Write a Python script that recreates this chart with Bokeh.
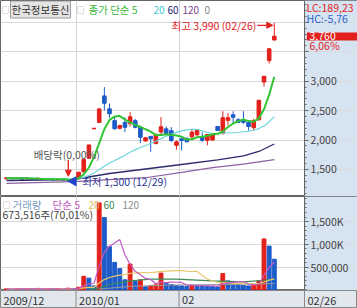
import numpy as np
import pandas as pd
from bokeh.plotting import figure
from bokeh.layouts import column
from bokeh.models import (Range1d, FixedTicker, Grid, Label, Arrow, NormalHead, LinearAxis,
                          BoxAnnotation)
from bokeh.embed import file_html
from bokeh.resources import INLINE
from bokeh.core.properties import value

FONT = "Noto Sans CJK KR"

# ---------------- data ----------------
stock_name = "한국정보통신"
dates = ["12/10", "12/11", "12/14", "12/15", "12/16", "12/17", "12/18", "12/21", "12/22", "12/23",
         "12/24", "12/28", "12/29", "12/30",
         "01/04", "01/05", "01/06", "01/07", "01/08", "01/11", "01/12", "01/13", "01/14", "01/15",
         "01/18", "01/19", "01/20", "01/21", "01/22", "01/25", "01/26", "01/27", "01/28", "01/29",
         "02/01", "02/02", "02/03", "02/04", "02/05", "02/08", "02/09", "02/10", "02/11", "02/12",
         "02/16", "02/17", "02/18", "02/19", "02/22", "02/23", "02/24", "02/25", "02/26"]
opens = [1340, 1355, 1345, 1360, 1340, 1350, 1335, 1345, 1330, 1340, 1325, 1340, 1325, 1310,
         1345, 1460, 1690, 2195, 2300, 2750, 2530, 2330, 2200, 2300, 2280, 2330, 2220, 1985, 2060, 1940,
         2135, 2190, 2160, 1910,
         2020, 2030, 2055, 2090, 2050, 1995, 2000, 2230, 2110, 2335, 2430, 2345, 2340, 2300, 2210, 2345,
         2985, 3350, 3700]
highs = [1360, 1365, 1370, 1365, 1360, 1355, 1350, 1350, 1345, 1345, 1345, 1345, 1335, 1340,
         1460, 1665, 1910, 2195, 2525, 2900, 2620, 2400, 2260, 2390, 2475, 2360, 2230, 2050, 2075, 2100,
         2390, 2230, 2220, 1990,
         2040, 2040, 2190, 2185, 2130, 2105, 2110, 2240, 2490, 2455, 2490, 2370, 2490, 2310, 2360, 2680,
         3080, 3550, 3990]
lows = [1330, 1340, 1340, 1335, 1335, 1330, 1330, 1325, 1325, 1320, 1320, 1320, 1300, 1305,
        1340, 1450, 1680, 2195, 2290, 2500, 2380, 2180, 2180, 2135, 2230, 2200, 1950, 1970, 1800, 1930,
        2100, 2100, 1965, 1835,
        1825, 1965, 2000, 2060, 1965, 1910, 1990, 2160, 2095, 2250, 2290, 2290, 2275, 2160, 2165, 2330,
        2910, 3300, 3690]
closes = [1355, 1345, 1360, 1340, 1350, 1335, 1345, 1330, 1340, 1325, 1340, 1325, 1310, 1335,
          1450, 1665, 1910, 2195, 2525, 2630, 2450, 2195, 2245, 2220, 2390, 2220, 2050, 2035, 2025, 2095,
          2220, 2110, 1995, 1965,
          1995, 1975, 2130, 2175, 2000, 2090, 2100, 2165, 2375, 2375, 2390, 2305, 2305, 2235, 2330, 2670,
          3080, 3545, 3760]
volumes = [25000, 18000, 30000, 22000, 28000, 20000, 35000, 15000, 25000, 20000, 30000, 22000, 40000, 28000,
           60000, 300000, 260000, 90000, 1910000, 1590000, 950000, 606000, 468000, 223000,
           569000, 184000, 223000, 70000, 100000, 115000, 370000, 150000, 120000, 95000,
           90000, 82000, 110000, 100000, 90000, 82000, 75000, 68000, 360000, 200000,
           140000, 120000, 105000, 90000, 110000, 200000, 1120000, 962027, 673516]

# long moving averages (index, value)
ma60_idx = [0, 13, 20, 27, 34, 41, 46, 49, 52]
ma60_val = [1313, 1330, 1432, 1508, 1585, 1662, 1730, 1806, 1933]
ma120_idx = [0, 13, 27, 34, 40, 46, 52]
ma120_val = [1265, 1295, 1360, 1450, 1530, 1590, 1668]
vma60_idx = [16, 18, 20, 24, 28, 33, 40, 46, 52]
vma60_val = [20000, 40000, 120000, 200000, 240000, 240000, 200000, 180000, 230000]
vma120_idx = [18, 24, 32, 42, 52]
vma120_val = [20000, 80000, 110000, 120000, 140000]

price_ticks = [1500, 2000, 2500, 3000, 3500, 4000]
price_hidden = [3500, 4000]
vol_ticks = [500000, 1000000, 1500000]
vol_tick_labels = ["500,000", "1,000K", "1,500K"]
date_labels = ["2009/12", "2010/01", "02", "02/26"]
exdiv_date = "12/29"

# ---------------- derived ----------------
n = len(closes)
idx = np.arange(n)
UP, DOWN = "#e3211c", "#1d5cc9"
ccol = [UP if c >= o else DOWN for o, c in zip(opens, closes)]
vcol = [UP] + [UP if volumes[i] >= volumes[i - 1] else DOWN for i in range(1, n)]
cs = pd.Series(closes, dtype=float)
ma5 = cs.rolling(5, min_periods=1).mean()
ma20 = cs.rolling(20, min_periods=1).mean()
vs = pd.Series(volumes, dtype=float)
vma5 = vs.rolling(5, min_periods=1).mean()
vma20 = vs.rolling(20, min_periods=1).mean()
tops = [max(o, c) for o, c in zip(opens, closes)]
bots = [min(o, c) for o, c in zip(opens, closes)]

month_start = [i for i in range(1, n) if dates[i][:2] != dates[i - 1][:2]]
bounds = [m - 0.5 for m in month_start]

low_i = int(np.argmin(lows))
high_i = int(np.argmax(highs))
exdiv_i = dates.index(exdiv_date)
last = closes[-1]
lc = (last / lows[low_i] - 1) * 100
hc = (last / highs[high_i] - 1) * 100
chg = (last / closes[-2] - 1) * 100
vratio = volumes[-1] / volumes[-2] * 100


def kfmt(v):
    return f"{v:.2f}".replace(".", ",")


W = 357
FRAME_W = 304                      # chart area width, right panel beyond
X0, X1 = -1.165, 57.86             # visible index range of the chart area
X3 = X0 + (X1 - X0) * W / FRAME_W  # full-width range
PANEL = "#d6e3f1"


def make_fig(h, yr):
    p = figure(width=W, height=h, x_range=Range1d(X0, X3), y_range=yr,
               x_axis_location=None, y_axis_location=None, toolbar_location=None,
               output_backend="svg", min_border_left=0, min_border_right=0,
               min_border_top=0, min_border_bottom=0, background_fill_color="white",
               border_fill_color="white", outline_line_color="#666666")
    p.grid.visible = False
    p.add_layout(BoxAnnotation(left=X1, fill_color=PANEL, fill_alpha=1, line_color=None,
                               level="underlay"))
    return p


def style_axis(a):
    a.axis_line_color = "#666666"
    a.major_tick_line_color = "#666666"
    a.minor_tick_line_color = "#666666"
    a.major_tick_out = 4
    a.major_tick_in = 0
    a.minor_tick_out = 2
    a.minor_tick_in = 0
    a.major_label_text_font = FONT
    a.major_label_text_font_size = "10.5px"
    a.major_label_text_color = "#444444"
    a.major_label_standoff = 2


def lab(p, x, y, text, color, size="10.5px", **kw):
    p.add_layout(Label(x=x, y=y, x_units="screen", y_units="screen", text=text,
                       text_color=color, text_font=FONT, text_font_size=size,
                       text_baseline="middle", **kw))


# ---------------- price panel ----------------
H1 = 196
p1 = make_fig(H1, Range1d(1041, 4371))
ax = LinearAxis(fixed_location=X1,
                ticker=FixedTicker(ticks=price_ticks, minor_ticks=list(range(1100, 4400, 100))),
                major_label_overrides={t: ("" if t in price_hidden else f"{t:,}") for t in price_ticks})
style_axis(ax)
p1.add_layout(ax, "right")
p1.add_layout(Grid(dimension=1, ticker=FixedTicker(ticks=price_ticks), bounds=(X0, X1),
                   grid_line_color="#d9d9d9"))
p1.add_layout(Grid(dimension=0, ticker=FixedTicker(ticks=bounds), grid_line_color="#d4d4d4"))

p1.segment(x0=idx, y0=lows, x1=idx, y1=highs, line_color=ccol, line_width=1)
p1.vbar(x=idx, width=0.7, top=tops, bottom=bots, fill_color=ccol, line_color=ccol)
p1.segment(x0=idx - 0.35, y0=closes, x1=idx + 0.35, y1=closes, line_color=ccol, line_width=1.5)

p1.line(ma120_idx, ma120_val, line_color="#8d5fa3", line_width=1.2)
p1.line(ma60_idx, ma60_val, line_color="#2b2a6e", line_width=1.3)
p1.line(idx, ma20, line_color="#6fd6dc", line_width=1.2)
p1.line(idx, ma5, line_color="#33c433", line_width=2)

# high marker
p1.add_layout(Arrow(end=NormalHead(size=6, fill_color=UP, line_color=UP), x_start=high_i - 3.3,
                    y_start=highs[high_i] - 40, x_end=high_i - 0.3, y_end=highs[high_i] - 40,
                    line_color=UP, line_width=1.3))
p1.add_layout(Label(x=high_i - 3.5, y=highs[high_i] - 40, text=f"최고 {highs[high_i]:,} ({dates[high_i]})",
                    text_color=UP, text_font=FONT, text_font_size="10.5px", text_align="right",
                    text_baseline="middle"))
# ex-dividend marker
p1.add_layout(Arrow(end=NormalHead(size=6, fill_color=UP, line_color=UP), x_start=exdiv_i,
                    y_start=highs[exdiv_i] + 330, x_end=exdiv_i, y_end=highs[exdiv_i] + 50,
                    line_color=UP, line_width=1.3))
p1.add_layout(Label(x=exdiv_i - 0.3, y=highs[exdiv_i] + 420, text="배당락(0,00%)",
                    text_color="#555555", text_font=FONT, text_font_size="10.5px", text_align="center",
                    text_baseline="middle"))
# low marker
p1.scatter([low_i + 1.0], [lows[low_i]], marker="triangle", angle=np.pi / 2, size=9,
           fill_color="#2244cc", line_color="#2244cc")
p1.add_layout(Label(x=low_i + 2.7, y=lows[low_i], text=f"최저 {lows[low_i]:,} ({dates[low_i]})",
                    text_color="#283593", text_font=FONT, text_font_size="10.5px",
                    text_baseline="middle"))

# legend row
lab(p1, 1, H1 - 9, "□", "#8a8a8a", size="8px")
lab(p1, 10, H1 - 9, stock_name, "#333333", background_fill_color="#e4e4e4",
    border_line_color="#9a9a9a", padding=1)
lab(p1, 76, H1 - 9, "□", "#8a8a8a", size="8px")
lab(p1, 88, H1 - 9, "종가 단순 5", "#3cb93c")
lab(p1, 153, H1 - 9, "20", "#3fc8d0", size="10px")
lab(p1, 167, H1 - 9, "60", "#1a2070", size="10px")
lab(p1, 182, H1 - 9, "120", "#7b3f8f", size="10px")
lab(p1, 204, H1 - 9, "0", "#888888", size="10px")

# right panel texts
lab(p1, FRAME_W + 2, H1 - 7, "LC:" + kfmt(lc), UP)
lab(p1, FRAME_W + 2, H1 - 18, "HC:" + kfmt(hc), "#2a5fcc")
p1.add_layout(BoxAnnotation(left=X1 + 0.45, bottom=last - 68, top=last + 68,
                            fill_color=UP, fill_alpha=1, line_color=None))
p1.add_layout(Label(x=FRAME_W + 5, y=last, x_units="screen", y_units="data", text=f"{last:,}",
                    text_color="white", text_font=FONT, text_font_size="10.5px",
                    text_baseline="middle"))
lab(p1, FRAME_W + 5, H1 - 45, kfmt(chg) + "%", UP)

# ---------------- volume panel ----------------
H2 = 94
p2 = make_fig(H2, Range1d(-11000, 2050000))
ax2 = LinearAxis(fixed_location=X1,
                 ticker=FixedTicker(ticks=vol_ticks, minor_ticks=list(range(0, 2100000, 100000))),
                 major_label_overrides=dict(zip(vol_ticks, vol_tick_labels)))
style_axis(ax2)
p2.add_layout(ax2, "right")
p2.add_layout(Grid(dimension=1, ticker=FixedTicker(ticks=vol_ticks), bounds=(X0, X1),
                   grid_line_color="#d9d9d9"))
p2.add_layout(Grid(dimension=0, ticker=FixedTicker(ticks=bounds), grid_line_color="#d4d4d4"))

p2.vbar(x=idx, width=0.75, top=volumes, bottom=0, fill_color=vcol, line_color=vcol)
p2.line(vma120_idx, vma120_val, line_color="#9a9a9a", line_width=1)
p2.line(vma60_idx, vma60_val, line_color="#3d8a55", line_width=1.2)
p2.line(idx, vma20, line_color="#e8c66a", line_width=1.2)
p2.line(idx, vma5, line_color="#c35ac3", line_width=1.2)

lab(p2, 2, H2 - 8, "□", "#8a8a8a", size="8px")
lab(p2, 12, H2 - 8, "거래량", "#7d9fc4")
lab(p2, 52, H2 - 8, "단순 5", "#c157c1")
lab(p2, 88, H2 - 8, "20", "#e0b850", size="10px")
lab(p2, 103, H2 - 8, "60", "#3d8a55", size="10px")
lab(p2, 122, H2 - 8, "120", "#8c8c8c", size="10px")
lab(p2, 2, H2 - 18, f"{volumes[-1]:,}주(" + kfmt(vratio) + "%)", "#444444")

# ---------------- date strip ----------------
H3 = 308 - H1 - H2
p3 = figure(width=W, height=H3, x_range=Range1d(X0, X3), y_range=Range1d(0, 1),
            x_axis_location=None, y_axis_location=None, toolbar_location=None,
            output_backend="svg", min_border_left=0, min_border_right=0,
            min_border_top=0, min_border_bottom=0, background_fill_color="#e2e7ed",
            border_fill_color="#e2e7ed", outline_line_color="#888888")
p3.grid.visible = False
seps = bounds + [X1]
p3.segment(x0=seps, y0=0, x1=seps, y1=1, line_color="#8a8a8a", line_width=1)
label_x = [X0] + bounds + [X1]
p3.text(x=label_x, y=[0.5] * len(label_x), text=date_labels, x_offset=3,
        text_font=value(FONT), text_font_size="11px", text_color="#333333",
        text_baseline="middle")

layout = column(p1, p2, p3, spacing=0)
open("out.html", "w").write(file_html(layout, INLINE))
